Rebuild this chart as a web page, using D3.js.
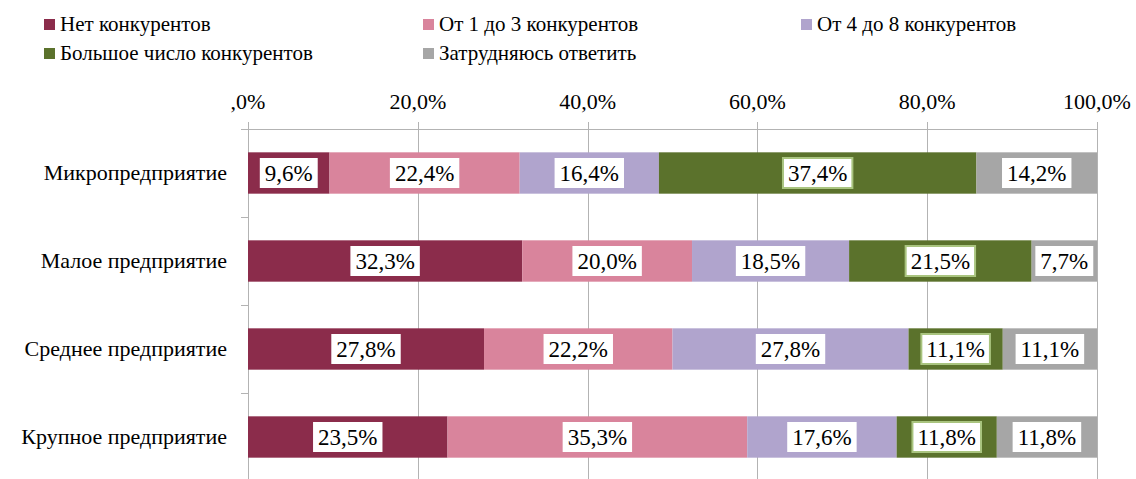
<!doctype html>
<html>
<head>
<meta charset="utf-8">
<style>
    body { margin: 0; background: #fff; }
</style>
<script src="https://d3js.org/d3.v7.min.js"></script>
</head>
<body>
<svg width="1136" height="479"></svg>
<script>

    var categories = ["Микропредприятие", "Малое предприятие", "Среднее предприятие", "Крупное предприятие"];
    var seriesNames = ["Нет конкурентов", "От 1 до 3 конкурентов", "От 4 до 8 конкурентов",
                       "Большое число конкурентов", "Затрудняюсь ответить"];
    var seriesColors = ["#8b2c4b", "#d9849c", "#b0a4cd", "#5b722c", "#a6a6a6"];

    // values per series, in category order
    var noneVals    = [9.6, 32.3, 27.8, 23.5];
    var oneToThree  = [22.4, 20.0, 22.2, 35.3];
    var fourToEight = [16.4, 18.5, 27.8, 17.6];
    var manyVals    = [37.4, 21.5, 11.1, 11.8];
    var hardToSay   = [14.2, 7.7, 11.1, 11.8];

    var xTicks = [0, 20, 40, 60, 80, 100];
    var xTickLabels = [",0%", "20,0%", "40,0%", "60,0%", "80,0%", "100,0%"];

    var series = [noneVals, oneToThree, fourToEight, manyVals, hardToSay];

    var svg = d3.select("svg");
    // one wrapper carries the serif face for everything
    var root = svg.append("g").attr("font-family", "Liberation Serif");

    var x = d3.scaleLinear().domain([0, 100]).range([248, 1097]);
    var y = d3.scaleBand().domain(categories).range([129, 481])
        .paddingInner(0.53).paddingOuter(0.265);

    var fmt = function(v) { return v.toFixed(1).replace(".", ",") + "%"; };

    // gridlines
    root.append("g").selectAll("line")
        .data(xTicks)
        .enter().append("line")
        .attr("x1", function(d) { return Math.round(x(d)) + 0.5; })
        .attr("x2", function(d) { return Math.round(x(d)) + 0.5; })
        .attr("y1", 122)
        .attr("y2", 481)
        .attr("stroke", "#b3b3b3");

    // top axis line
    root.append("line")
        .attr("x1", 241).attr("x2", x(100))
        .attr("y1", 129.5).attr("y2", 129.5)
        .attr("stroke", "#b3b3b3");

    // category axis ticks between bands
    var edges = [];
    for (var i = 0; i <= categories.length; i++) edges.push(129 + i * y.step());
    root.append("g").selectAll("line")
        .data(edges)
        .enter().append("line")
        .attr("x1", 241).attr("x2", 248)
        .attr("y1", function(d) { return Math.round(d) + 0.5; })
        .attr("y2", function(d) { return Math.round(d) + 0.5; })
        .attr("stroke", "#b3b3b3");

    // tick labels
    root.append("g").selectAll("text")
        .data(xTicks)
        .enter().append("text")
        .attr("x", function(d) { return x(d); })
        .attr("y", 109)
        .attr("text-anchor", "middle")
        .attr("font-size", 22)
        .text(function(d, i) { return xTickLabels[i]; });

    // category labels
    root.append("g").selectAll("text")
        .data(categories)
        .enter().append("text")
        .attr("x", 227)
        .attr("y", function(d) { return y(d) + y.bandwidth() / 2 + 7; })
        .attr("text-anchor", "end")
        .attr("font-size", 22)
        .text(function(d) { return d; });

    // stack the data
    var rows = categories.map(function(c, ci) {
        var start = 0;
        return series.map(function(s, si) {
            var seg = { cat: c, si: si, v: s[ci], x0: start, x1: start + s[ci] };
            start += s[ci];
            return seg;
        });
    });
    var segs = [].concat.apply([], rows);

    root.append("g").selectAll("rect")
        .data(segs)
        .enter().append("rect")
        .attr("x", function(d) { return x(d.x0); })
        .attr("y", function(d) { return y(d.cat); })
        .attr("width", function(d) { return x(d.x1) - x(d.x0); })
        .attr("height", y.bandwidth())
        .attr("fill", function(d) { return seriesColors[d.si]; });

    // data labels
    var lab = root.append("g").selectAll("g")
        .data(segs)
        .enter().append("g")
        .attr("transform", function(d) {
            return "translate(" + (x((d.x0 + d.x1) / 2)) + "," + (y(d.cat) + y.bandwidth() / 2) + ")";
        });

    lab.append("text")
        .attr("text-anchor", "middle")
        .attr("y", 8)
        .attr("font-size", 23)
        .text(function(d) { return fmt(d.v); })
        .each(function(d) {
            d.bw = this.getBBox().width;
        });

    lab.insert("rect", "text")
        .attr("x", function(d) { return -d.bw / 2 - 5; })
        .attr("y", -15)
        .attr("width", function(d) { return d.bw + 10; })
        .attr("height", 30)
        .attr("fill", "#fff")
        .attr("stroke", function(d) { return d.si === 3 ? "#a9c47f" : "none"; })
        .attr("stroke-width", 2);

    // legend
    var legendPos = [[44, 24], [423, 24], [801, 24], [44, 53], [423, 53]];
    var leg = root.append("g").selectAll("g")
        .data(seriesNames)
        .enter().append("g")
        .attr("transform", function(d, i) { return "translate(" + legendPos[i][0] + "," + legendPos[i][1] + ")"; });

    leg.append("rect")
        .attr("x", 0).attr("y", -5)
        .attr("width", 11).attr("height", 11)
        .attr("fill", function(d, i) { return seriesColors[i]; });

    leg.append("text")
        .attr("x", 16)
        .attr("y", 7)
        .attr("font-size", 21)
        .text(function(d) { return d; });

</script>
</body>
</html>
